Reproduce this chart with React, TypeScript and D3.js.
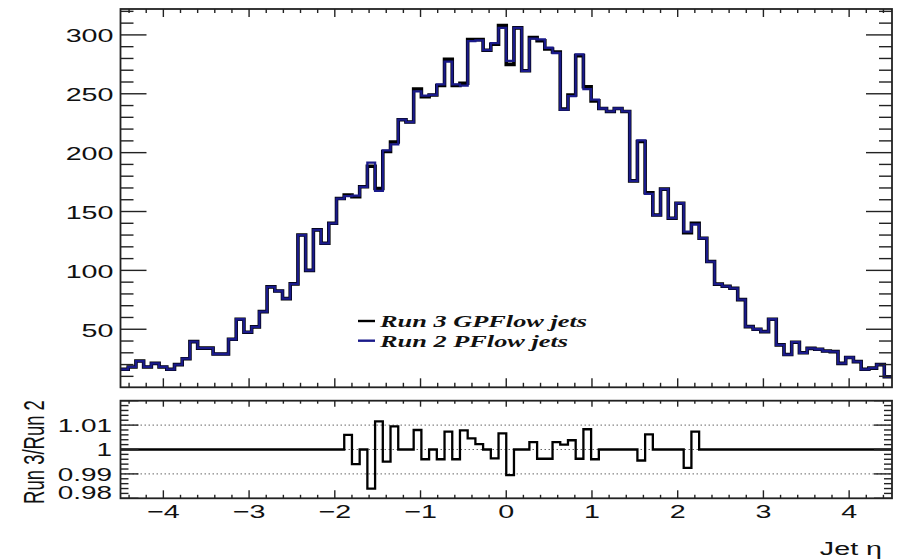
import React from "react";
import * as d3 from "d3";

// ---- data ----
const ETA_MIN = -4.5;
const ETA_MAX = 4.5;
const N_BINS = 100;

const run3Counts: number[] = [
  16, 18, 23, 18, 21, 18, 16, 20, 25, 39.5,
  34, 34, 29, 29, 41.5, 58.5, 47.5, 52, 65, 86,
  82.5, 76, 88.5, 130, 100, 134.4, 123, 140, 161, 164,
  162.5, 171, 188.5, 169.5, 201, 209, 228, 226, 254, 247.5,
  249, 257, 279.3, 257, 259, 296, 296, 287, 292, 308,
  275, 306, 269.5, 297.7, 295, 288, 285.5, 237, 249, 282.4,
  256, 244, 237.5, 235, 237.5, 235, 176, 209.5, 166, 147,
  169, 144.3, 157, 132, 140, 127.3, 107.5, 88.3, 86.5, 84.8,
  75.2, 52.2, 50, 48, 58.5, 36.7, 28.5, 39, 30, 33.8,
  33, 31.5, 31, 21, 26, 22.5, 16, 17, 20, 9.7,
];

const ratioValues: number[] = [
  1, 1, 1, 1, 1, 1, 1, 1, 1, 1,
  1, 1, 1, 1, 1, 1, 1, 1, 1, 1,
  1, 1, 1, 1, 1, 1, 1, 1, 1, 1.006,
  0.994, 1, 0.984, 1.0115, 0.995, 1.0095, 1, 1, 1.008, 0.996,
  1, 0.996, 1.0073, 0.996, 1.0078, 1.0046, 1.0022, 1, 0.9964, 1.0066,
  0.9895, 1, 1, 1.003, 0.9962, 0.9962, 1.003, 1.002, 1.0038, 0.9962,
  1.0083, 0.996, 1, 1, 1, 1, 1, 0.9955, 1.0062, 1,
  1, 1, 1, 0.9925, 1.0073, 1, 1, 1, 1, 1,
  1, 1, 1, 1, 1, 1, 1, 1, 1, 1,
  1, 1, 1, 1, 1, 1, 1, 1, 1, 1,
];

// Run 2 = Run 3 / ratio
const run2Counts: number[] = run3Counts.map((v, i) => v / ratioValues[i]);

const xMajorTicks = [-4, -3, -2, -1, 0, 1, 2, 3, 4];
const xTickLabels = ["\u22124", "\u22123", "\u22122", "\u22121", "0", "1", "2", "3", "4"];
const yTopMajorTicks = [50, 100, 150, 200, 250, 300];
const yRatioMajorTicks = [0.98, 0.99, 1, 1.01, 1.02];
const yRatioLabels: [number, string][] = [
  [0.98, "0.98"],
  [0.99, "0.99"],
  [1, "1"],
  [1.01, "1.01"],
];
const ratioGridValues = [0.99, 1, 1.01];

const RUN3_COLOR = "#000000";
const RUN2_COLOR = "#1a1a8a";
const legendEntries = [
  { label: "Run 3 GPFlow jets", color: RUN3_COLOR },
  { label: "Run 2 PFlow jets", color: RUN2_COLOR },
];

// ---- layout ----
const W = 897;
const H = 560;
const L = 120.5;
const R = 892;
const TOP_T = 9;
const TOP_B = 387.3;
const RAT_T = 400.7;
const RAT_B = 498.3;
const SX = 1.55; // the reference is horizontally stretched
const FS = 18.5;
const SANS = "'Liberation Sans', Arial, Helvetica, sans-serif";
const SERIF = "'Liberation Serif', 'Times New Roman', serif";

const x = d3.scaleLinear().domain([ETA_MIN, ETA_MAX]).range([L, R]);
const yTop = d3.scaleLinear().domain([0.7, 322]).range([TOP_B, TOP_T]);
const yRat = d3.scaleLinear().domain([0.98, 1.02]).range([RAT_B, RAT_T]);

const binW = (ETA_MAX - ETA_MIN) / N_BINS;
const edges = d3.range(N_BINS + 1).map((i) => ETA_MIN + i * binW);

function stepPath(vals: number[], ys: d3.ScaleLinear<number, number>) {
  let p = "";
  vals.forEach((v, i) => {
    const x0 = x(edges[i]);
    const x1 = x(edges[i + 1]);
    const yy = ys(v);
    if (i === 0) p += `M${x0},${yy}`;
    else p += `V${yy}`;
    p += `H${x1}`;
  });
  return p;
}

function minorRange(a: number, b: number, step: number, majors: number[]) {
  const out: number[] = [];
  const n = Math.round((b - a) / step);
  for (let i = 0; i <= n; i++) {
    const v = a + i * step;
    if (!majors.some((m) => Math.abs(m - v) < step / 10)) out.push(v);
  }
  return out;
}

const xMinor = minorRange(-4.4, 4.4, 0.2, xMajorTicks);
const yTopMinor = minorRange(10, 320, 10, yTopMajorTicks);
const yRatMinor = minorRange(0.982, 1.018, 0.002, yRatioMajorTicks);

function SText(props: {
  x: number;
  y: number;
  anchor?: string;
  size?: number;
  family?: string;
  weight?: string;
  italic?: boolean;
  children: React.ReactNode;
}) {
  const { x: tx, y: ty, anchor = "start", size = FS, family = SANS, weight = "normal", italic = false } = props;
  return (
    <text
      transform={`translate(${tx},${ty}) scale(${SX},1)`}
      textAnchor={anchor}
      fontSize={size}
      fontFamily={family}
      fontWeight={weight}
      fontStyle={italic ? "italic" : "normal"}
      fill="#111"
    >
      {props.children}
    </text>
  );
}

export default function App() {
  const frameColor = "#222";
  const tickW = 1.4;

  const xTicks = (yEdge: number, dir: number, maj: number, min: number, key: string) => (
    <g key={key}>
      {xMajorTicks.map((t) => (
        <line key={`M${t}`} x1={x(t)} x2={x(t)} y1={yEdge} y2={yEdge + dir * maj} stroke={frameColor} strokeWidth={tickW} />
      ))}
      {xMinor.map((t) => (
        <line key={`m${t}`} x1={x(t)} x2={x(t)} y1={yEdge} y2={yEdge + dir * min} stroke={frameColor} strokeWidth={tickW} />
      ))}
    </g>
  );

  const yTicks = (
    ys: d3.ScaleLinear<number, number>,
    majors: number[],
    minors: number[],
    maj: number,
    min: number,
    key: string
  ) => (
    <g key={key}>
      {majors.map((t) => (
        <g key={`M${t}`}>
          <line x1={L} x2={L + maj} y1={ys(t)} y2={ys(t)} stroke={frameColor} strokeWidth={tickW} />
          <line x1={R} x2={R - maj} y1={ys(t)} y2={ys(t)} stroke={frameColor} strokeWidth={tickW} />
        </g>
      ))}
      {minors.map((t) => (
        <g key={`m${t}`}>
          <line x1={L} x2={L + min} y1={ys(t)} y2={ys(t)} stroke={frameColor} strokeWidth={tickW} />
          <line x1={R} x2={R - min} y1={ys(t)} y2={ys(t)} stroke={frameColor} strokeWidth={tickW} />
        </g>
      ))}
    </g>
  );

  return (
    <svg
      width={W}
      height={H}
      viewBox={`0 0 ${W} ${H}`}
      style={{ position: "absolute", left: 0, top: 0, background: "#fff" }}
    >
      <rect x={0} y={0} width={W} height={H} fill="#fff" />

      <defs>
        <clipPath id="clipTop">
          <rect x={L} y={TOP_T} width={R - L} height={TOP_B - TOP_T} />
        </clipPath>
        <clipPath id="clipRat">
          <rect x={L} y={RAT_T} width={R - L} height={RAT_B - RAT_T} />
        </clipPath>
      </defs>

      {/* ---------- top panel ---------- */}
      <g clipPath="url(#clipTop)">
        <path d={stepPath(run3Counts, yTop)} fill="none" stroke={RUN3_COLOR} strokeWidth={3.6} />
        <path d={stepPath(run2Counts, yTop)} fill="none" stroke={RUN2_COLOR} strokeWidth={2.3} />
      </g>

      {yTicks(yTop, yTopMajorTicks, yTopMinor, 26, 13, "yt")}
      {xTicks(TOP_T, 1, 8, 4, "xtt")}
      {xTicks(TOP_B, -1, 9, 4.5, "xtb")}
      <rect x={L} y={TOP_T} width={R - L} height={TOP_B - TOP_T} fill="none" stroke={frameColor} strokeWidth={1.8} />

      {yTopMajorTicks.map((t) => (
        <SText key={`lt${t}`} x={113.5} y={yTop(t) + 7.5} anchor="end">
          {String(t)}
        </SText>
      ))}

      {/* legend */}
      {legendEntries.map((e, i) => {
        const ly = 321 + i * 19.7;
        return (
          <g key={e.label}>
            <line x1={358} x2={375} y1={ly} y2={ly} stroke={e.color} strokeWidth={2.4} />
            <SText x={380} y={ly + 6} size={17} family={SERIF} weight="bold" italic>
              {e.label}
            </SText>
          </g>
        );
      })}

      {/* ---------- ratio panel ---------- */}
      {ratioGridValues.map((g) => (
        <line
          key={`g${g}`}
          x1={L}
          x2={R}
          y1={yRat(g)}
          y2={yRat(g)}
          stroke="#666"
          strokeWidth={1}
          strokeDasharray="1.5,2.5"
        />
      ))}
      <g clipPath="url(#clipRat)">
        <path d={stepPath(ratioValues, yRat)} fill="none" stroke="#000" strokeWidth={2.3} />
      </g>
      {yTicks(yRat, yRatioMajorTicks, yRatMinor, 18, 8, "yr")}
      {xTicks(RAT_T, 1, 6, 3, "xrt")}
      {xTicks(RAT_B, -1, 8, 3.5, "xrb")}
      <rect x={L} y={RAT_T} width={R - L} height={RAT_B - RAT_T} fill="none" stroke={frameColor} strokeWidth={1.8} />

      {yRatioLabels.map(([v, s]) => (
        <SText key={`lr${s}`} x={112} y={Math.min(yRat(v) + 6.8, RAT_B + 0.5)} anchor="end" size={18}>
          {s}
        </SText>
      ))}

      {xMajorTicks.map((t, i) => (
        <SText key={`lx${t}`} x={x(t)} y={518} anchor="middle">
          {xTickLabels[i]}
        </SText>
      ))}

      <SText x={882} y={555} anchor="end">
        {"Jet \u03b7"}
      </SText>

      <text
        transform={`translate(44,452) scale(${SX},1) rotate(-90)`}
        textAnchor="middle"
        fontSize={FS}
        fontFamily={SANS}
        fill="#111"
      >
        Run 3/Run 2
      </text>
    </svg>
  );
}
